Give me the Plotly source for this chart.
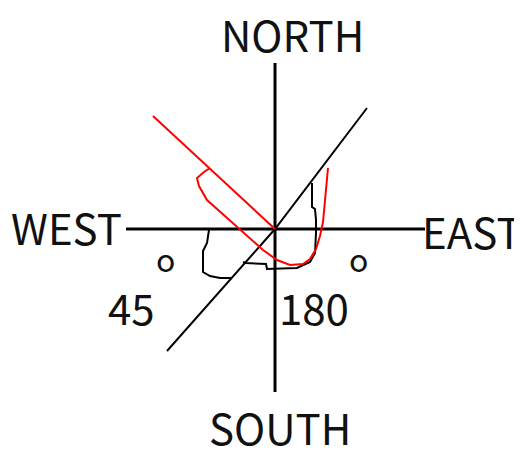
import plotly.graph_objects as go

# Diagram geometry (picture coordinates: x to the right, y downward)
axis_ns_x = [275, 275]
axis_ns_y = [63, 392]
axis_we_x = [126, 425]
axis_we_y = [229, 229]

diag_black_x = [167, 275, 367]
diag_black_y = [351, 229, 108]

red_line_x = [153, 275]
red_line_y = [116, 229]

red_loop_x = [210, 204, 197, 199, 207, 237, 263, 277, 290, 303, 310, 316, 320, 323, 325, 326, 328]
red_loop_y = [168, 172, 178, 186, 200, 227, 250, 260, 265, 264, 259, 249, 236, 222, 200, 190, 168]

black_right_x = [312, 312, 315, 316, 316, 315, 310, 297, 267, 266, 246, 243]
black_right_y = [183, 207, 209, 220, 233, 253, 262, 268, 269, 264, 263, 262]

black_left_x = [209, 208, 207, 203, 203, 210, 220, 232]
black_left_y = [230, 236, 243, 251, 272, 276, 278, 278]

labels = ["NORTH", "WEST", "EAST", "SOUTH", "45", "180"]
label_x = [292, 66, 472, 280, 131, 314]
label_y = [33, 226, 230, 426, 306, 306]

degree_marks = ["o", "o"]
degree_x = [165, 358]
degree_y = [258, 258]

# page body has an 8px margin: shift the plotting frame to compensate
OFF = 8
W, H = 522, 450

fig = go.Figure()

def add_line(xs, ys, color, width):
    fig.add_trace(go.Scatter(x=xs, y=ys, mode="lines",
                             line=dict(color=color, width=width),
                             hoverinfo="skip", showlegend=False))

add_line(axis_ns_x, axis_ns_y, "black", 3)
add_line(axis_we_x, axis_we_y, "black", 3)
add_line(diag_black_x, diag_black_y, "black", 2)
add_line(black_right_x, black_right_y, "black", 2)
add_line(black_left_x, black_left_y, "black", 2)
add_line(red_line_x, red_line_y, "#ff0000", 2)
add_line(red_loop_x, red_loop_y, "#ff0000", 2)

font_family = "Noto Sans CJK JP, Liberation Sans, Arial"
for t, x, y in zip(labels, label_x, label_y):
    fig.add_annotation(x=x, y=y, text=t, showarrow=False, xref="x", yref="y",
                       xanchor="center", yanchor="middle",
                       font=dict(family=font_family, size=42, color="#111111"))
for t, x, y in zip(degree_marks, degree_x, degree_y):
    fig.add_annotation(x=x, y=y, text=t, showarrow=False, xref="x", yref="y",
                       xanchor="center", yanchor="middle",
                       font=dict(family=font_family, size=32, color="#111111"))

fig.update_layout(
    width=W - OFF, height=H - OFF, autosize=False,
    margin=dict(l=0, r=0, t=0, b=0),
    paper_bgcolor="white", plot_bgcolor="white",
    xaxis=dict(range=[OFF, W], visible=False, fixedrange=True),
    yaxis=dict(range=[H, OFF], visible=False, fixedrange=True),
)

fig.write_html("out.html", config={"displayModeBar": False})
